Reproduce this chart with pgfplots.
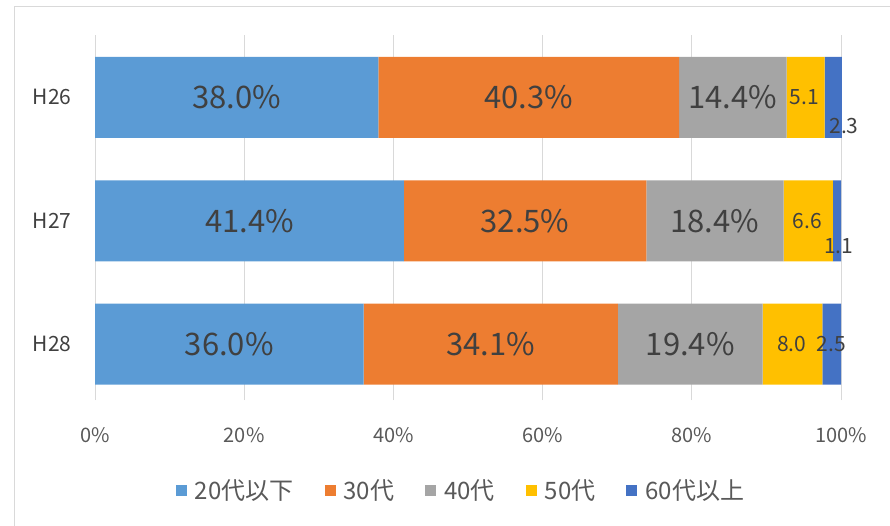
\documentclass[border=0pt]{standalone}
\usepackage{pgfplots}
\pgfplotsset{compat=1.18}
\usepackage{fontspec}
\setmainfont{Noto Sans CJK JP}
\definecolor{c1}{HTML}{5B9BD5}
\definecolor{c2}{HTML}{ED7D31}
\definecolor{c3}{HTML}{A5A5A5}
\definecolor{c4}{HTML}{FFC000}
\definecolor{c5}{HTML}{4472C4}
\definecolor{gridgray}{HTML}{D9D9D9}
\definecolor{labgray}{HTML}{404040}
\definecolor{txtgray}{HTML}{595959}
\begin{document}
\begin{tikzpicture}[x=1pt,y=1pt]
\useasboundingbox (0,0) rectangle (890,-526);
\draw[gridgray, line width=1.5pt] (14.5,-526) -- (14.5,-6.5) -- (890,-6.5);
\begin{axis}[
  at={(95pt,-400pt)}, anchor=south west,
  scale only axis, width=746pt, height=365pt,
  xbar stacked, bar width=81pt,
  xmin=0, xmax=100, ymin=-0.453, ymax=2.506,
  clip=false,
  ytick={0,1,2}, yticklabels={H28,H27,H26},
  xtick={0,20,40,60,80,100},
  xticklabel={\pgfmathprintnumber{\tick}\%},
  /pgf/number format/assume math mode=true,
  axis line style={draw=none}, major tick length=0pt,
  xmajorgrids, grid style={draw=gridgray, line width=1pt},
  xticklabel style={font=\fontsize{20}{22}\selectfont, text=txtgray, yshift=-24pt},
  yticklabel style={font=\fontsize{21}{24}\selectfont, text=labgray, xshift=-20pt},
  legend style={at={(0.4906,-0.2466)}, anchor=center, draw=none, legend columns=5,
    font=\fontsize{24}{27}\selectfont, text=txtgray,
    /tikz/every even column/.append style={column sep=29pt},
    /tikz/every odd column/.append style={column sep=6pt}},
  legend cell align=left,
  legend image code/.code={\fill[#1] (0pt,-5.5pt) rectangle (11pt,5.5pt);},
]
\addplot[fill=c1, draw=none] coordinates {(36.0,0) (41.4,1) (38.0,2)};
\addplot[fill=c2, draw=none] coordinates {(34.1,0) (32.5,1) (40.3,2)};
\addplot[fill=c3, draw=none] coordinates {(19.4,0) (18.4,1) (14.4,2)};
\addplot[fill=c4, draw=none] coordinates {(8.0,0) (6.6,1) (5.1,2)};
\addplot[fill=c5, draw=none] coordinates {(2.5,0) (1.1,1) (2.3,2)};
\legend{20代以下,30代,40代,50代,60代以上}
\coordinate (a1) at (axis cs:19.0,2);
\coordinate (a2) at (axis cs:58.15,2);
\coordinate (a3) at (axis cs:85.5,2);
\coordinate (a4) at (axis cs:95.1,2);
\coordinate (a5) at (axis cs:100.4,1.765);
\coordinate (b1) at (axis cs:20.7,1);
\coordinate (b2) at (axis cs:57.65,1);
\coordinate (b3) at (axis cs:83.1,1);
\coordinate (b4) at (axis cs:95.5,1);
\coordinate (b5) at (axis cs:99.7,0.794);
\coordinate (c1) at (axis cs:18.0,0);
\coordinate (c2) at (axis cs:53.05,0);
\coordinate (c3) at (axis cs:79.8,0);
\coordinate (c4) at (axis cs:93.4,0);
\coordinate (c5) at (axis cs:98.7,0);
\end{axis}
\tikzset{big/.style={font=\fontsize{31}{34}\selectfont, text=labgray}, small/.style={font=\fontsize{21}{24}\selectfont, text=labgray}}
\node[big] at (a1) {38.0\%};
\node[big] at (a2) {40.3\%};
\node[big] at (a3) {14.4\%};
\node[small] at (a4) {5.1};
\node[small] at (a5) {2.3};
\node[big] at (b1) {41.4\%};
\node[big] at (b2) {32.5\%};
\node[big] at (b3) {18.4\%};
\node[small] at (b4) {6.6};
\node[small] at (b5) {1.1};
\node[big] at (c1) {36.0\%};
\node[big] at (c2) {34.1\%};
\node[big] at (c3) {19.4\%};
\node[small] at (c4) {8.0};
\node[small] at (c5) {2.5};
\end{tikzpicture}
\end{document}
